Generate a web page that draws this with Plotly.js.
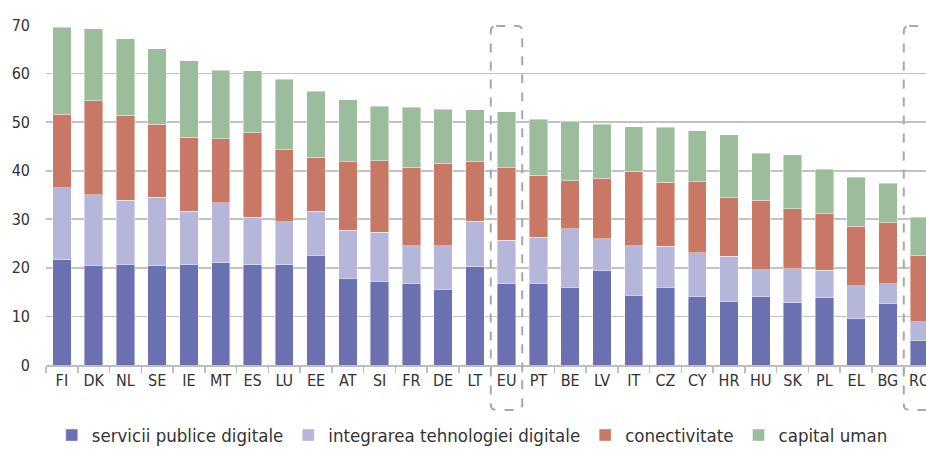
<!DOCTYPE html>
<html>
<head>
<meta charset="utf-8">
<script src="https://cdn.plot.ly/plotly-3.0.1.min.js"></script>
<style>html,body{margin:0;padding:0;background:#fff;}#chart{width:926px;height:449px;}</style>
</head>
<body>
<div id="chart"></div>
<script>
const countries = ["FI","DK","NL","SE","IE","MT","ES","LU","EE","AT","SI","FR","DE","LT","EU","PT","BE","LV","IT","CZ","CY","HR","HU","SK","PL","EL","BG","RO"];
const serviciiPublice = [21.7,20.5,20.7,20.4,20.6,21.1,20.6,20.6,22.6,17.9,17.2,16.7,15.6,20.2,16.7,16.8,16.0,19.5,14.4,16.0,14.2,13.1,14.2,12.8,13.8,9.6,12.7,5.0];
const integrareaTehnologiei = [14.8,14.6,13.2,14.1,11.1,12.3,9.8,8.9,9.1,9.8,10.1,7.9,9.0,9.4,9.0,9.5,12.1,6.5,10.2,8.4,8.9,9.3,5.4,7.0,5.7,6.7,4.0,3.9];
const conectivitate = [15.1,19.3,17.5,15.1,15.2,13.2,17.4,14.8,11.1,14.1,14.8,16.1,16.8,12.2,14.9,12.8,9.8,12.5,15.3,13.2,14.6,12.0,14.3,12.4,11.6,12.3,12.6,13.7];
const capitalUman = [17.9,14.8,15.8,15.5,15.7,14.1,12.8,14.5,13.6,12.8,11.2,12.4,11.3,10.8,11.5,11.5,12.3,11.1,9.2,11.4,10.5,13.0,9.7,11.1,9.2,10.1,8.1,7.8];
const seriesNames = ["servicii publice digitale","integrarea tehnologiei digitale","conectivitate","capital uman"];
const seriesColors = ["#6b70b1","#b4b7da","#c97865","#9bbd9b"];
const highlighted = ["EU","RO"];

const FONT = "'Liberation Sans Narrow', 'DejaVu Sans Condensed', 'Open Sans', sans-serif";
const values = [serviciiPublice, integrareaTehnologiei, conectivitate, capitalUman];
const traces = values.map((v, i) => ({
  type: "bar",
  name: seriesNames[i],
  x: countries,
  y: v,
  marker: {color: seriesColors[i], line: {color: "rgba(255,255,255,0.7)", width: 0.6}},
  hoverinfo: "x+y+name"
}));

function roundedBox(cx) {
  const x0 = cx - 0.5, x1 = cx + 0.49;
  const y0 = -0.132, y1 = 0.997;
  const rx = 0.17, ry = 0.016;
  return {
    type: "path", xref: "x", yref: "paper",
    path: `M ${x0+rx},${y1} L ${x1-rx},${y1} Q ${x1},${y1} ${x1},${y1-ry} L ${x1},${y0+ry} Q ${x1},${y0} ${x1-rx},${y0} L ${x0+rx},${y0} Q ${x0},${y0} ${x0},${y0+ry} L ${x0},${y1-ry} Q ${x0},${y1} ${x0+rx},${y1} Z`,
    line: {color: "#a8a8a8", width: 2, dash: "dash"},
    fillcolor: "rgba(0,0,0,0)",
    layer: "above"
  };
}
const shapes = highlighted.map(c => roundedBox(countries.indexOf(c)));

const layout = {
  width: 926, height: 449,
  margin: {l: 46, r: 0, t: 25, b: 84},
  barmode: "stack",
  bargap: 0.42,
  paper_bgcolor: "#fff", plot_bgcolor: "#fff",
  font: {family: FONT, size: 15, color: "#333"},
  showlegend: true,
  legend: {
    orientation: "h", x: 0.51, xref: "container", xanchor: "center",
    y: 0.03, yref: "container", yanchor: "middle",
    traceorder: "normal", font: {family: FONT, size: 18.5, color: "#333"},
    itemwidth: 30, tracegroupgap: 0
  },
  xaxis: {
    type: "category",
    range: [-0.5, 27.2],
    showline: true, linecolor: "#bdbdbd", linewidth: 1.5,
    ticks: "outside", tickson: "boundaries", ticklen: 6, tickcolor: "#bdbdbd", tickwidth: 1.5,
    showgrid: false,
    tickfont: {family: FONT, size: 16, color: "#333"},
    fixedrange: true
  },
  yaxis: {
    range: [0, 70], dtick: 10,
    showgrid: true, gridcolor: "#c2c2c2", gridwidth: 1.8,
    zeroline: false, showline: false,
    ticks: "", ticklabelstandoff: 15,
    tickfont: {family: FONT, size: 16, color: "#333"},
    fixedrange: true
  },
  shapes: shapes
};

Plotly.newPlot("chart", traces, layout, {displayModeBar: false, staticPlot: true});
</script>
</body>
</html>
